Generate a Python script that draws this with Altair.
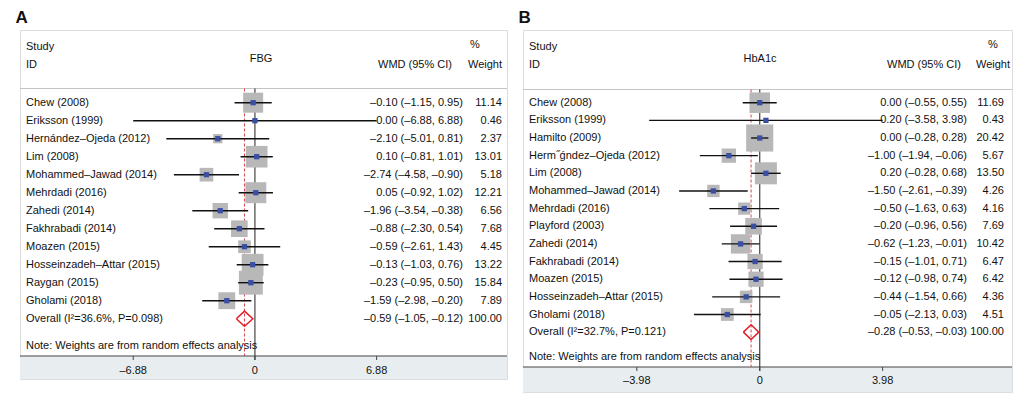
import altair as alt
import pandas as pd

FONT = "Liberation Sans"

# ---------------- Panel A (FBG) ----------------
a_names = ["Chew (2008)", "Eriksson (1999)", "Hernández–Ojeda (2012)", "Lim (2008)",
           "Mohammed–Jawad (2014)", "Mehrdadi (2016)", "Zahedi (2014)", "Fakhrabadi (2014)",
           "Moazen (2015)", "Hosseinzadeh–Attar (2015)", "Raygan (2015)", "Gholami (2018)"]
a_est = [-0.10, 0.00, -2.10, 0.10, -2.74, 0.05, -1.96, -0.88, -0.59, -0.13, -0.23, -1.59]
a_lo = [-1.15, -6.88, -5.01, -0.81, -4.58, -0.92, -3.54, -2.30, -2.61, -1.03, -0.95, -2.98]
a_hi = [0.95, 6.88, 0.81, 1.01, -0.90, 1.02, -0.38, 0.54, 1.43, 0.76, 0.50, -0.20]
a_wt = [11.14, 0.46, 2.37, 13.01, 5.18, 12.21, 6.56, 7.68, 4.45, 13.22, 15.84, 7.89]
a_ci_txt = ["–0.10 (–1.15, 0.95)", "0.00 (–6.88, 6.88)", "–2.10 (–5.01, 0.81)",
            "0.10 (–0.81, 1.01)", "–2.74 (–4.58, –0.90)", "0.05 (–0.92, 1.02)",
            "–1.96 (–3.54, –0.38)", "–0.88 (–2.30, 0.54)", "–0.59 (–2.61, 1.43)",
            "–0.13 (–1.03, 0.76)", "–0.23 (–0.95, 0.50)", "–1.59 (–2.98, –0.20)"]
a_wt_txt = ["11.14", "0.46", "2.37", "13.01", "5.18", "12.21", "6.56", "7.68",
            "4.45", "13.22", "15.84", "7.89"]
a_overall = [-0.59, -1.05, -0.12]
a_overall_label = "Overall (I²=36.6%, P=0.098)"
a_overall_txt = "–0.59 (–1.05, –0.12)"
a_ticks = [-6.88, 0.0, 6.88]
a_tick_labels = ["–6.88", "0", "6.88"]

# ---------------- Panel B (HbA1c) ----------------
b_names = ["Chew (2008)", "Eriksson (1999)", "Hamilto (2009)", "Herm˝ǵndez–Ojeda (2012)",
           "Lim (2008)", "Mohammed–Jawad (2014)", "Mehrdadi (2016)", "Playford (2003)",
           "Zahedi (2014)", "Fakhrabadi (2014)", "Moazen (2015)", "Hosseinzadeh–Attar (2015)",
           "Gholami (2018)"]
b_est = [0.00, 0.20, 0.00, -1.00, 0.20, -1.50, -0.50, -0.20, -0.62, -0.15, -0.12, -0.44, -1.05]
b_lo = [-0.55, -3.58, -0.28, -1.94, -0.28, -2.61, -1.63, -0.96, -1.23, -1.01, -0.98, -1.54, -2.13]
b_hi = [0.55, 3.98, 0.28, -0.06, 0.68, -0.39, 0.63, 0.56, -0.01, 0.71, 0.74, 0.66, 0.03]
b_wt = [11.69, 0.43, 20.42, 5.67, 13.50, 4.26, 4.16, 7.69, 10.42, 6.47, 6.42, 4.36, 4.51]
b_ci_txt = ["0.00 (–0.55, 0.55)", "0.20 (–3.58, 3.98)", "0.00 (–0.28, 0.28)",
            "–1.00 (–1.94, –0.06)", "0.20 (–0.28, 0.68)", "–1.50 (–2.61, –0.39)",
            "–0.50 (–1.63, 0.63)", "–0.20 (–0.96, 0.56)", "–0.62 (–1.23, –0.01)",
            "–0.15 (–1.01, 0.71)", "–0.12 (–0.98, 0.74)", "–0.44 (–1.54, 0.66)",
            "–0.05 (–2.13, 0.03)"]
b_wt_txt = ["11.69", "0.43", "20.42", "5.67", "13.50", "4.26", "4.16", "7.69",
            "10.42", "6.47", "6.42", "4.36", "4.51"]
b_overall = [-0.28, -0.53, -0.03]
b_overall_label = "Overall (I²=32.7%, P=0.121)"
b_overall_txt = "–0.28 (–0.53, –0.03)"
b_ticks = [-3.98, 0.0, 3.98]
b_tick_labels = ["–3.98", "0", "3.98"]

NOTE = "Note: Weights are from random effects analysis"


def panel(letter, measure, names, est, lo, hi, wt, ci_txt, wt_txt,
          ov, ov_label, ov_txt, ticks, tick_labels, L):
    W, H = L["W"], L["H"]
    n = len(names)
    xs = alt.Scale(domain=L["xdom"], nice=False, zero=False)
    ys = alt.Scale(domain=L["ydom"], reverse=True, nice=False, zero=False)

    def X(f):
        return alt.X(f, type="quantitative", scale=xs, axis=None)

    def Y(f):
        return alt.Y(f, type="quantitative", scale=ys, axis=None)

    df = pd.DataFrame({"row": list(range(n)), "est": est, "lo": lo, "hi": hi,
                       "sz": [36 * w for w in wt]})
    tdf = pd.DataFrame({"row": list(range(n + 1)), "name": names + [ov_label],
                        "ci": ci_txt + [ov_txt], "wt": wt_txt + ["100.00"]})
    ovdf = pd.DataFrame({"est": [ov[0]]})
    ddf = pd.DataFrame({"x": [ov[1], ov[0], ov[2], ov[0], ov[1]],
                        "y": [n, n - 0.42, n, n + 0.42, n], "o": [0, 1, 2, 3, 4]})
    tkdf = pd.DataFrame({"t": ticks, "lbl": tick_labels})
    zdf = pd.DataFrame({"z": [0.0]})
    dummy = alt.Chart(pd.DataFrame({"k": [0]}))

    def txt(s, x, y, align="left"):
        return dummy.mark_text(font=FONT, fontSize=11, align=align, baseline="middle",
                               color="#111").encode(x=alt.value(x), y=alt.value(y), text=alt.value(s))

    hy, ay = L["hdr_y"], L["axis_y"]
    layers = [
        dummy.mark_rect(color="#e8eef0").encode(x=alt.value(0), x2=alt.value(W),
                                                y=alt.value(ay), y2=alt.value(H)),
        dummy.mark_rule(color="#c4c4c4", strokeWidth=1).encode(x=alt.value(0), x2=alt.value(W),
                                                               y=alt.value(hy)),
        dummy.mark_rule(color="#444", strokeWidth=1).encode(x=alt.value(0), x2=alt.value(W),
                                                            y=alt.value(ay)),
        alt.Chart(zdf).mark_rule(color="#444", strokeWidth=1.2).encode(
            x=X("z"), y=alt.value(hy), y2=alt.value(ay + 4)),
        alt.Chart(tkdf).mark_rule(color="#444", strokeWidth=1).encode(
            x=X("t"), y=alt.value(ay), y2=alt.value(ay + 4)),
        alt.Chart(tkdf).mark_text(font=FONT, fontSize=11, baseline="middle", color="#111").encode(
            x=X("t"), y=alt.value(L["lbl_y"]), text="lbl:N"),
        alt.Chart(ovdf).mark_rule(color="#d6454f", strokeDash=[3, 2], strokeWidth=1).encode(
            x=X("est"), y=alt.value(hy), y2=alt.value(ay)),
        alt.Chart(df).mark_point(shape="square", filled=True, color="#b8b8b8", opacity=1,
                                 strokeWidth=0).encode(
            x=X("est"), y=Y("row"), size=alt.Size("sz:Q", scale=None)),
        alt.Chart(df).mark_rule(color="#111", strokeWidth=1.4).encode(
            x=X("lo"), x2=alt.X2("hi"), y=Y("row")),
        alt.Chart(df).mark_point(shape="square", filled=True, color="#3a4fa3", opacity=1,
                                 size=28, strokeWidth=0).encode(x=X("est"), y=Y("row")),
        alt.Chart(ddf).mark_line(color="#e0202a", strokeWidth=1.5).encode(
            x=X("x"), y=Y("y"), order="o:Q"),
        alt.Chart(tdf).mark_text(font=FONT, fontSize=11, align="left", baseline="middle",
                                 color="#111").encode(x=alt.value(L["name_x"]), y=Y("row"), text="name:N"),
        alt.Chart(tdf).mark_text(font=FONT, fontSize=11, align="right", baseline="middle",
                                 color="#111").encode(x=alt.value(L["ci_x"]), y=Y("row"), text="ci:N"),
        alt.Chart(tdf).mark_text(font=FONT, fontSize=11, align="right", baseline="middle",
                                 color="#111").encode(x=alt.value(L["wt_x"]), y=Y("row"), text="wt:N"),
        txt(NOTE, L["name_x"], L["note_y"]),
        txt("Study", L["name_x"], 17),
        txt("ID", L["name_x"], 35),
        txt(measure, L["meas_x"], 29, "center"),
        txt("WMD (95% CI)", L["wmd_x"], 35, "right"),
        txt("%", L["pct_x"], 15, "center"),
        txt("Weight", L["wth_x"], 35, "right"),
    ]
    return alt.layer(*layers).properties(
        width=W, height=H,
        title=alt.TitleParams(letter, anchor="start", fontSize=17, font=FONT,
                              fontWeight="bold", dx=-4, offset=3, color="#111"))


LA = dict(W=487, H=349, xdom=[-13.28, 14.25], ydom=[-4.039, 15.35],
          hdr_y=58.5, axis_y=326, lbl_y=341, note_y=316, name_x=6, ci_x=443,
          wt_x=482, meas_x=241, wmd_x=432, pct_x=455, wth_x=482)
LB = dict(W=489, H=362, xdom=[-7.666, 8.169], ydom=[-4.119, 16.39],
          hdr_y=59.5, axis_y=337, lbl_y=351, note_y=327, name_x=6, ci_x=444,
          wt_x=481, meas_x=237, wmd_x=438, pct_x=470, wth_x=487)

pa = panel("A", "FBG", a_names, a_est, a_lo, a_hi, a_wt, a_ci_txt, a_wt_txt,
           a_overall, a_overall_label, a_overall_txt, a_ticks, a_tick_labels, LA)
pb = panel("B", "HbA1c", b_names, b_est, b_lo, b_hi, b_wt, b_ci_txt, b_wt_txt,
           b_overall, b_overall_label, b_overall_txt, b_ticks, b_tick_labels, LB)

chart = alt.hconcat(pa, pb, spacing=16, bounds="flush").properties(
    padding={"left": 7, "top": 0, "right": 0, "bottom": 0}
).configure_view(stroke="#7a7a7a", strokeWidth=1).configure(background="white")

chart.save("out.html", embed_options={"renderer": "svg", "actions": False})
